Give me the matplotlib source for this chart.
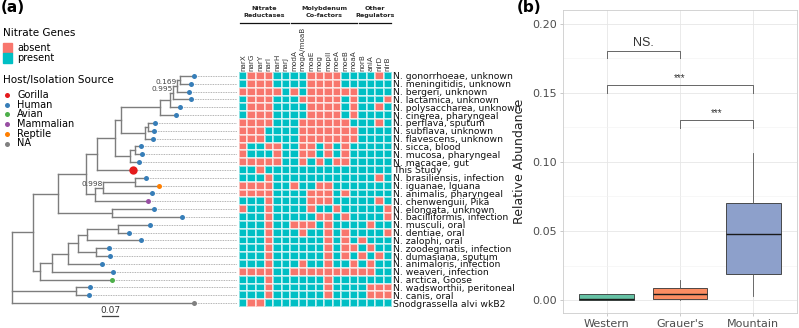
import numpy as np
import matplotlib.pyplot as plt
from matplotlib.colors import ListedColormap
from matplotlib.collections import LineCollection
from matplotlib.patches import Rectangle
from matplotlib.lines import Line2D

plt.rcParams['font.family'] = ['DejaVu Sans']

W, H = 799, 328

# ==============================================================================
# panel (a) data
taxa = [
    "N. gonorrhoeae, unknown", "N. meningitidis, unknown", "N. bergeri, unknown",
    "N. lactamica, unknown", "N. polysaccharea, unknown", "N. cinerea, pharyngeal",
    "N. perflava, sputum", "N. subflava, unknown", "N. flavescens, unknown",
    "N. sicca, blood", "N. mucosa, pharyngeal", "N. macacae, gut", "This Study",
    "N. brasiliensis, infection", "N. iguanae, Iguana", "N. animalis, pharyngeal",
    "N. chenwenguii, Pika", "N. elongata, unknown", "N. bacilliformis, infection",
    "N. musculi, oral", "N. dentiae, oral", "N. zalophi, oral",
    "N. zoodegmatis, infection", "N. dumasiana, sputum", "N. animaloris, infection",
    "N. weaveri, infection", "N. arctica, Goose", "N. wadsworthii, peritoneal",
    "N. canis, oral", "Snodgrassella alvi wkB2",
]
host = (["Human"] * 12 + ["Gorilla", "Human", "Reptile", "Human", "Mammalian"]
        + ["Human"] * 9 + ["Avian", "Human", "Human", "NA"])

genes = ["narX", "narG", "narY", "narI", "narH", "narJ", "modA", "mogA/moaB",
         "moaE", "mog", "mopII", "moeA", "moeB", "moaA", "norB", "aniA", "nirD", "nirB"]
gene_groups = [("Nitrate\nReductases", 0, 5), ("Molybdenum\nCo-factors", 6, 13),
               ("Other\nRegulators", 14, 17)]

# 1 = absent, 0 = present
absent = np.array([
    [0, 1, 1, 1, 0, 0, 0, 0, 1, 1, 1, 1, 0, 0, 0, 0, 1, 0],
    [0, 1, 1, 1, 0, 0, 0, 0, 1, 1, 1, 1, 0, 0, 0, 0, 0, 0],
    [1, 1, 1, 1, 1, 0, 1, 0, 1, 1, 1, 1, 1, 1, 0, 0, 0, 0],
    [0, 1, 1, 1, 0, 0, 0, 1, 1, 1, 1, 1, 0, 1, 0, 0, 0, 1],
    [0, 1, 1, 1, 0, 0, 0, 0, 1, 1, 1, 1, 0, 1, 0, 0, 1, 0],
    [0, 1, 1, 1, 0, 0, 0, 0, 1, 1, 1, 1, 0, 1, 0, 0, 0, 0],
    [1, 1, 1, 1, 0, 0, 0, 1, 1, 1, 1, 1, 1, 0, 0, 0, 1, 0],
    [1, 1, 1, 0, 0, 0, 0, 1, 1, 1, 1, 1, 1, 1, 0, 0, 0, 0],
    [1, 1, 1, 0, 0, 0, 0, 1, 1, 1, 1, 1, 1, 1, 0, 0, 0, 0],
    [1, 0, 0, 1, 1, 0, 0, 1, 1, 0, 1, 0, 1, 0, 0, 0, 0, 0],
    [1, 0, 0, 0, 1, 0, 0, 1, 1, 0, 1, 0, 1, 0, 0, 0, 0, 0],
    [1, 1, 1, 1, 1, 0, 0, 1, 0, 1, 0, 1, 1, 0, 0, 0, 0, 0],
    [0, 0, 1, 0, 0, 0, 0, 0, 0, 0, 0, 0, 0, 0, 0, 0, 0, 0],
    [0, 0, 0, 1, 0, 0, 0, 0, 0, 0, 0, 0, 0, 0, 0, 0, 1, 0],
    [1, 1, 1, 1, 0, 0, 1, 0, 0, 1, 1, 0, 0, 0, 0, 0, 0, 0],
    [1, 1, 1, 1, 0, 0, 0, 0, 1, 1, 1, 0, 1, 0, 0, 0, 0, 0],
    [0, 0, 0, 1, 0, 0, 0, 0, 1, 1, 1, 0, 0, 0, 0, 0, 1, 0],
    [1, 0, 0, 1, 0, 0, 0, 0, 1, 0, 0, 1, 0, 0, 0, 0, 0, 1],
    [0, 0, 0, 1, 0, 0, 0, 0, 0, 1, 1, 0, 1, 0, 0, 0, 0, 1],
    [0, 0, 0, 1, 0, 0, 1, 1, 1, 0, 1, 0, 0, 0, 0, 1, 0, 0],
    [0, 0, 0, 1, 0, 0, 0, 1, 0, 0, 1, 0, 1, 0, 0, 0, 0, 1],
    [0, 0, 0, 1, 0, 0, 0, 0, 0, 0, 1, 0, 1, 0, 1, 0, 0, 0],
    [0, 0, 0, 1, 0, 0, 0, 0, 0, 0, 1, 0, 1, 1, 0, 1, 0, 0],
    [0, 0, 0, 1, 0, 0, 0, 0, 0, 0, 1, 0, 1, 0, 1, 0, 1, 0],
    [0, 0, 0, 1, 0, 0, 0, 1, 0, 0, 1, 0, 0, 1, 0, 1, 0, 0],
    [1, 1, 1, 1, 0, 0, 1, 1, 1, 1, 1, 1, 1, 1, 1, 1, 0, 0],
    [0, 0, 0, 1, 0, 0, 0, 0, 0, 0, 1, 0, 0, 0, 0, 0, 0, 0],
    [0, 0, 0, 1, 0, 0, 0, 0, 0, 0, 1, 0, 0, 0, 0, 1, 1, 1],
    [0, 0, 0, 1, 0, 0, 0, 0, 0, 0, 1, 0, 0, 0, 0, 1, 1, 1],
    [0, 1, 1, 0, 0, 0, 0, 0, 0, 0, 0, 0, 0, 0, 0, 0, 0, 0],
])

# (node, parent, distance from root)
tree_nodes = [
    ("root", None, 0.000),
    ("n_ingroup", "root", 0.092),
    ("n_upper", "n_ingroup", 0.201),
    ("n_core", "n_upper", 0.324),
    ("n_gor", "n_core", 0.372),
    ("n_flav", "n_gor", 0.451),
    ("n_path", "n_flav", 0.477),
    ("n_top", "n_path", 0.647),
    ("n_top2", "n_top", 0.691),
    ("n_top3", "n_top2", 0.704),
    ("n_top4", "n_top3", 0.722),
    ("n_top5", "n_top4", 0.735),
    ("N. gonorrhoeae, unknown", "n_top5", 0.796),
    ("N. meningitidis, unknown", "n_top5", 0.783),
    ("N. bergeri, unknown", "n_top4", 0.774),
    ("N. lactamica, unknown", "n_top3", 0.783),
    ("N. polysaccharea, unknown", "n_top2", 0.735),
    ("N. cinerea, pharyngeal", "n_top", 0.717),
    ("n_perf", "n_path", 0.582),
    ("n_perf2", "n_perf", 0.595),
    ("N. perflava, sputum", "n_perf2", 0.626),
    ("N. subflava, unknown", "n_perf2", 0.621),
    ("N. flavescens, unknown", "n_perf", 0.617),
    ("n_sicca", "n_flav", 0.516),
    ("n_sicca2", "n_sicca", 0.538),
    ("N. sicca, blood", "n_sicca2", 0.564),
    ("N. mucosa, pharyngeal", "n_sicca2", 0.569),
    ("N. macacae, gut", "n_sicca", 0.556),
    ("This Study", "n_gor", 0.529),
    ("n_bras", "n_core", 0.363),
    ("n_bras2", "n_bras", 0.398),
    ("n_bras3", "n_bras2", 0.538),
    ("N. brasiliensis, infection", "n_bras3", 0.586),
    ("N. iguanae, Iguana", "n_bras3", 0.643),
    ("N. animalis, pharyngeal", "n_bras2", 0.612),
    ("N. chenwenguii, Pika", "n_bras", 0.595),
    ("n_elong", "n_upper", 0.437),
    ("N. elongata, unknown", "n_elong", 0.621),
    ("N. bacilliformis, infection", "n_elong", 0.744),
    ("n_lower", "n_ingroup", 0.122),
    ("n_lower2", "n_lower", 0.175),
    ("n_lower3", "n_lower2", 0.245),
    ("n_lower4", "n_lower3", 0.289),
    ("n_lower5", "n_lower4", 0.328),
    ("n_musc", "n_lower5", 0.464),
    ("N. musculi, oral", "n_musc", 0.604),
    ("N. dentiae, oral", "n_musc", 0.512),
    ("N. zalophi, oral", "n_lower5", 0.564),
    ("n_zoo", "n_lower4", 0.367),
    ("N. zoodegmatis, infection", "n_zoo", 0.424),
    ("N. dumasiana, sputum", "n_zoo", 0.429),
    ("N. animaloris, infection", "n_lower3", 0.394),
    ("N. weaveri, infection", "n_lower2", 0.442),
    ("N. arctica, Goose", "n_lower", 0.437),
    ("n_canis", "root", 0.280),
    ("N. wadsworthii, peritoneal", "n_canis", 0.341),
    ("N. canis, oral", "n_canis", 0.337),
    ("Snodgrassella alvi wkB2", "root", 0.796),
]
node_support = {"n_top4": "0.169", "n_top3": "0.995", "n_bras2": "0.998"}

host_colors = {"Gorilla": "#E41A1C", "Human": "#377EB8", "Avian": "#4DAF4A",
               "Mammalian": "#984EA3", "Reptile": "#FF7F00", "NA": "#808080"}
gene_colors = {"absent": "#F8766D", "present": "#00BFC4"}

# ==============================================================================
# panel (b) data
groups = ["Western", "Grauer's", "Mountain"]
box_q1 = [0.0000, 0.0010, 0.0186]
box_med = [0.0005, 0.0041, 0.0476]
box_q3 = [0.0043, 0.0085, 0.0700]
box_lo = [0.0000, 0.0000, 0.0029]
box_hi = [0.0043, 0.0145, 0.1063]
box_colors = ["#66C2A5", "#FC8D62", "#8DA0CB"]

comparisons = [(0, 1), (0, 2), (1, 2)]
comp_y = [0.1807, 0.1556, 0.1304]
comp_labels = ["NS.", "***", "***"]


# ==============================================================================
def px_box(x0, y0, x1, y1):
    return [x0 / W, 1 - y1 / H, (x1 - x0) / W, (y1 - y0) / H]


fig = plt.figure(figsize=(W / 100, H / 100), dpi=100)

# ---------------- tree
px_per_unit = 228.6
ax_t = fig.add_axes(px_box(0, 72, 237, 307))
ax_t.set_xlim(-12 / px_per_unit, 225 / px_per_unit)
ax_t.set_ylim(len(taxa) - 0.5, -0.5)
ax_t.axis("off")

depth = {n: d for n, p, d in tree_nodes}
children = {}
for n, p, d in tree_nodes:
    if p is not None:
        children.setdefault(p, []).append(n)
ypos = {t: i for i, t in enumerate(taxa)}


def node_y(n):
    if n not in ypos:
        ypos[n] = np.mean([node_y(c) for c in children[n]])
    return ypos[n]


node_y("root")

segs = []
for n, p, d in tree_nodes:
    if p is not None:
        segs.append([(depth[p], ypos[n]), (d, ypos[n])])
    if n in children:
        ys = [ypos[c] for c in children[n]]
        segs.append([(d, min(ys)), (d, max(ys))])
ax_t.add_collection(LineCollection(segs, colors="#7d7d7d", linewidths=1.0,
                                   capstyle="projecting"))

xmax = ax_t.get_xlim()[1]
for i, t in enumerate(taxa):
    ax_t.plot([depth[t], xmax], [i, i], ls=(0, (1, 1)), color="#9a9a9a", lw=0.6,
              zorder=1)
    ms = 6 if host[i] == "Gorilla" else 3.6
    ax_t.plot(depth[t], i, "o", ms=ms, color=host_colors[host[i]], mec="none",
              zorder=3)

for n, lab in node_support.items():
    ax_t.text(depth[n], ypos[n] - 0.45, lab, ha="right", va="center",
              fontsize=5.3, color="#444444")

# scale bar
sb_x = 0.394
ax_t.plot([sb_x, sb_x + 0.07], [30.65, 30.65], color="#444444", lw=0.9,
          clip_on=False)
ax_t.text(sb_x + 0.035, 30.0, "0.07", ha="center", va="center", fontsize=6.5,
          color="#333333")

# ---------------- heatmap
ax_h = fig.add_axes(px_box(239, 72, 392, 307))
cmap = ListedColormap([gene_colors["present"], gene_colors["absent"]])
ax_h.pcolormesh(np.arange(len(genes) + 1) - 0.5, np.arange(len(taxa) + 1) - 0.5,
                absent, cmap=cmap, vmin=0, vmax=1, edgecolors=(1, 1, 1, 0.55),
                linewidth=0.25)
ax_h.set_xlim(-0.5, len(genes) - 0.5)
ax_h.set_ylim(len(taxa) - 0.5, -0.5)
for s in ax_h.spines.values():
    s.set_visible(False)
ax_h.xaxis.tick_top()
ax_h.set_xticks(range(len(genes)))
ax_h.set_xticklabels(genes, rotation=90, fontsize=5.2, color="#333333")
ax_h.yaxis.tick_right()
ax_h.set_yticks(range(len(taxa)))
ax_h.set_yticklabels(taxa, fontsize=6.7, color="#111111")
ax_h.tick_params(length=0, pad=1)

tr = ax_h.get_xaxis_transform()
for lab, c0, c1 in gene_groups:
    ax_h.plot([c0 - 0.4, c1 + 0.4], [1.209, 1.209], color="#111111", lw=0.9,
              transform=tr, clip_on=False)
    ax_h.text((c0 + c1) / 2, 1.255, lab, ha="center", va="center", fontsize=4.6,
              fontweight="bold", transform=tr, linespacing=1.35, color="#222222")

# ---------------- legends (a)
fig.text(3 / W, 1 - 33 / H, "Nitrate Genes", fontsize=7.5, va="center")
for k, lab in enumerate(["absent", "present"]):
    y = 43 + 10 * k
    fig.add_artist(Rectangle((3 / W, 1 - (y + 10) / H), 9 / W, 10 / H,
                             transform=fig.transFigure, color=gene_colors[lab]))
    fig.text(17 / W, 1 - (y + 5) / H, lab, fontsize=7, va="center")

fig.text(3 / W, 1 - 80 / H, "Host/Isolation Source", fontsize=7.5, va="center")
for k, lab in enumerate(host_colors):
    y = 95 + 9.7 * k
    fig.add_artist(Line2D([7 / W], [1 - y / H], marker="o", ms=3.6, mec="none",
                          color=host_colors[lab], transform=fig.transFigure))
    fig.text(17 / W, 1 - y / H, lab, fontsize=7, va="center")

fig.text(1 / W, 1 - 7 / H, "(a)", fontsize=11, fontweight="bold", va="center")
fig.text(517 / W, 1 - 7 / H, "(b)", fontsize=11, fontweight="bold", va="center")

# ---------------- panel (b)
ax_b = fig.add_axes(px_box(563, 10, 797, 313))
stats = [dict(q1=a, med=m, q3=b, whislo=lo, whishi=hi, label=g)
         for a, m, b, lo, hi, g in zip(box_q1, box_med, box_q3, box_lo, box_hi, groups)]
bp = ax_b.bxp(stats, positions=[1, 2, 3], widths=0.75, patch_artist=True,
              showfliers=False, showcaps=False,
              boxprops=dict(edgecolor="#333333", linewidth=0.6),
              medianprops=dict(color="#1a1a1a", linewidth=1.0),
              whiskerprops=dict(color="#555555", linewidth=0.6))
for patch, col in zip(bp["boxes"], box_colors):
    patch.set_facecolor(col)

ax_b.set_xlim(0.4, 3.6)
ax_b.set_ylim(-0.0094, 0.2101)
ax_b.set_yticks([0, 0.05, 0.10, 0.15, 0.20])
ax_b.set_yticklabels(["0.00", "0.05", "0.10", "0.15", "0.20"])
ax_b.set_yticks([0.025, 0.075, 0.125, 0.175], minor=True)
ax_b.set_axisbelow(True)
ax_b.grid(True, which="major", color="#E6E6E6", lw=0.6)
ax_b.grid(True, which="minor", axis="y", color="#F2F2F2", lw=0.4)
ax_b.tick_params(axis="both", colors="#B3B3B3", labelcolor="#4D4D4D",
                 labelsize=8, length=2.5, width=0.5, pad=2)
ax_b.tick_params(axis="y", which="minor", length=0)
for s in ax_b.spines.values():
    s.set_color("#CCCCCC")
    s.set_linewidth(0.6)
ax_b.set_ylabel("Relative Abundance", fontsize=9, color="#222222", labelpad=4)

drop = 0.0055
for (i, j), y, lab in zip(comparisons, comp_y, comp_labels):
    xi, xj = i + 1, j + 1
    ax_b.plot([xi, xi, xj, xj], [y - drop, y, y, y - drop], color="#666666", lw=0.7)
    if lab == "NS.":
        ax_b.text((xi + xj) / 2, y + 0.0015, lab, ha="center", va="bottom",
                  fontsize=9, color="#333333", family="Liberation Sans")
    else:
        ax_b.text((xi + xj) / 2, y + 0.0015, lab, ha="center", va="bottom",
                  fontsize=7, color="#333333", family="Liberation Sans")

fig.savefig("out.png", dpi=100)
